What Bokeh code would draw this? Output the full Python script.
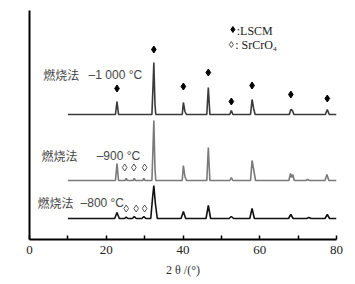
from bokeh.plotting import figure
from bokeh.models import Range1d, FixedTicker
from bokeh.core.properties import value
from bokeh.embed import file_html
from bokeh.resources import INLINE

# ---- data (relative intensities) ----
t1000_x = [10, 22.4, 22.8, 23.2, 31.9, 32.2, 32.4, 32.7, 32.9, 39.8, 40.1, 40.5, 40.9, 46.2, 46.6, 47.0,
           52.2, 52.6, 53.0, 57.6, 58.0, 58.4, 58.8, 67.7, 68.1, 68.5, 68.9, 77.1, 77.6, 78.1, 80]
t1000_y = [0, 0, 13, 0, 0, 30, 52, 10, 0, 0, 12, 3, 0, 0, 27, 0,
           0, 4, 0, 0, 15, 6, 0, 0, 5, 4, 0, 0, 5, 0, 0]

t900_x = [10, 22.4, 22.8, 23.2, 24.9, 25.2, 25.5, 27.0, 27.3, 27.6, 29.5, 29.8, 30.1, 31.9, 32.2, 32.4, 32.7, 32.9,
          39.8, 40.1, 40.5, 40.9, 46.2, 46.6, 47.0, 52.2, 52.6, 53.0, 57.6, 58.0, 58.5, 58.9,
          67.6, 68.0, 68.3, 68.6, 69.0, 72.0, 72.5, 73.0, 77.0, 77.5, 78.0, 80]
t900_y = [0, 0, 17, 0, 0, 2, 0, 0, 2, 0, 0, 2, 0, 0, 35, 60, 12, 0,
          0, 15, 4, 0, 0, 33, 0, 0, 3, 0, 0, 20, 9, 0,
          0, 7, 3, 6, 0, 0, 1, 0, 0, 6, 0, 0]

t800_x = [10, 22.2, 22.8, 23.4, 24.8, 25.2, 25.6, 26.8, 27.3, 27.8, 29.3, 29.8, 30.3, 31.6, 32.1, 32.4, 32.8, 33.3,
          39.5, 40.1, 40.7, 46.0, 46.6, 47.2, 52.0, 52.6, 53.2, 57.4, 58.0, 58.6, 67.5, 68.1, 68.7,
          72.2, 72.8, 73.4, 77.0, 77.6, 78.2, 80]
t800_y = [0, 0, 6, 0, 0, 1.5, 0, 0, 2, 0, 0, 2, 0, 0, 22, 33, 15, 0,
          0, 7, 0, 0, 13, 0, 0, 2, 0, 0, 10, 0, 0, 4, 0,
          0, 1, 0, 0, 4, 0, 0]

lscm_x = [22.8, 32.4, 40.1, 46.6, 52.6, 58.0, 68.1, 77.6]
lscm_y = [151, 190, 153, 167, 138, 154, 145, 141]
sr900_x = [24.8, 27.2, 30.0]
sr900_y = [72, 72, 72]
sr800_x = [25.2, 27.8, 30.0]
sr800_y = [31, 31, 31]

legend_labels = [":LSCM", ": SrCrO₄"]
x_ticks = [0, 20, 40, 60, 80]
offsets = {"1000": 125, "900": 59, "800": 21}

p = figure(width=352, height=282, output_backend="svg", toolbar_location=None,
           x_range=Range1d(0, 80), y_range=Range1d(0, 229),
           min_border_left=29, min_border_right=16, min_border_top=10, min_border_bottom=43)
p.outline_line_color = None
p.grid.visible = False
p.background_fill_color = "white"

# curves
p.line(t1000_x, [v + offsets["1000"] for v in t1000_y], line_color="#3a3a3a", line_width=1.6)
p.line(t900_x, [v + offsets["900"] for v in t900_y], line_color="#7a7a7a", line_width=1.6)
p.line(t800_x, [v + offsets["800"] for v in t800_y], line_color="#111111", line_width=1.6)

# markers
p.scatter(lscm_x, lscm_y, marker="diamond", size=7, fill_color="black", line_color="black")
p.scatter(sr900_x, sr900_y, marker="diamond", size=7, fill_color="white", line_color="#555555", line_width=1)
p.scatter(sr800_x, sr800_y, marker="diamond", size=7, fill_color="white", line_color="#555555", line_width=1)

cjk = value("Noto Sans CJK SC")
sans = value("Liberation Sans")
serif = value("Liberation Serif")
lab_color = "#444444"
p.text(x=[3.6, 3.1, 2.1], y=[165, 84, 37], text=["燃烧法", "燃烧法", "燃烧法"],
       text_font=cjk, text_font_size="12px", text_color=lab_color, text_baseline="middle")
p.text(x=[15.4, 17.5, 13.3], y=[165, 84, 37], text=["–1 000 °C", "–900 °C", "–800 °C"],
       text_font=sans, text_font_size="12px", text_color=lab_color, text_baseline="middle")

# legend block
p.scatter([53.0], [210], marker="diamond", size=6, fill_color="black", line_color="black")
p.scatter([52.6], [195], marker="diamond", size=6, fill_color="white", line_color="#555555", line_width=1)
p.text(x=[54.0, 53.6], y=[209, 195], text=legend_labels,
       text_font=serif, text_font_size="12px", text_color="#222222", text_baseline="middle")

# axes
p.xaxis.ticker = FixedTicker(ticks=x_ticks, minor_ticks=[10, 30, 50, 70])
p.xaxis.major_tick_in = 4
p.xaxis.major_tick_out = 0
p.xaxis.minor_tick_in = 4
p.xaxis.minor_tick_out = 0
p.xaxis.axis_line_width = 2
p.xaxis.major_tick_line_width = 1.5
p.xaxis.minor_tick_line_width = 1.5
p.xaxis.major_label_text_font = "Liberation Serif"
p.xaxis.major_label_text_font_size = "13px"
p.xaxis.major_label_text_color = "#222222"
p.xaxis.major_label_standoff = 6
p.xaxis.axis_label = "2 θ /(°)"
p.xaxis.axis_label_text_font = "Liberation Serif"
p.xaxis.axis_label_text_font_style = "normal"
p.xaxis.axis_label_text_font_size = "12px"
p.xaxis.axis_label_text_color = "#333333"
p.xaxis.axis_label_standoff = 6

p.yaxis.ticker = FixedTicker(ticks=[])
p.yaxis.major_label_text_font_size = "0px"
p.yaxis.axis_line_width = 2
p.yaxis.major_tick_line_color = None
p.yaxis.minor_tick_line_color = None

open("out.html", "w").write(file_html(p, INLINE))
